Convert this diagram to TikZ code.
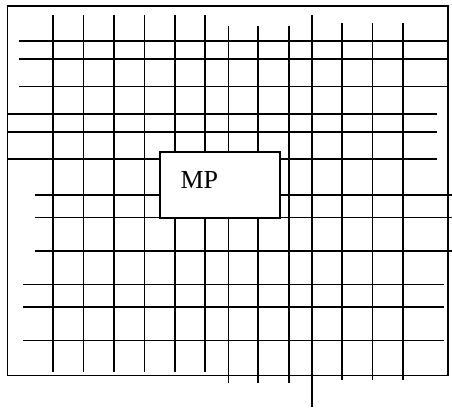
\documentclass[tikz,border=0pt]{standalone}
\usepackage{fontspec}
\setmainfont{Liberation Serif}
\usepackage{tikz}
\usetikzlibrary{positioning}

\begin{document}
\begin{tikzpicture}[
      x=1pt, y=-1pt,
      wire/.style={draw, line width=1.6pt},
      frame/.style={draw, line width=1.7pt},
      box/.style={draw, fill=white, line width=1.7pt, minimum width=120pt,
                  minimum height=65.4pt, inner sep=0pt},
      lbl/.style={font=\fontsize{26}{30}\selectfont, inner sep=0pt}
    ]
    \useasboundingbox (0,0) rectangle (452,408);
    \draw[frame] (7.5,6) rectangle (448,375.5);

    % vertical wires
    \foreach \x in {52.7,83.3,114,144.3,174.7,205}
      \draw[wire] (\x,15) -- (\x,372.3);
    \foreach \x in {228.3,258,288.7}
      \draw[wire] (\x,26) -- (\x,383);
    \draw[wire] (311.7,15) -- (311.7,406.7);
    \foreach \x in {341.7,372.3,402.7}
      \draw[wire] (\x,23.3) -- (\x,380.3);

    % horizontal wires
    \foreach \y in {40.7,59,86.3}
      \draw[wire] (19.3,\y) -- (448,\y);
    \foreach \y in {113.7,131.7,159}
      \draw[wire] (7.5,\y) -- (436.7,\y);
    \foreach \y in {195,217.3,251}
      \draw[wire] (34.5,\y) -- (451.7,\y);
    \foreach \y in {284.3,306.7,340.3}
      \draw[wire] (23,\y) -- (444.3,\y);

    % the block
    \node[box] (mp) at (220,185) {};
    \node[lbl, anchor=base west] (mptext) at (180.3,188.3) {MP};
  \end{tikzpicture}
\end{document}
